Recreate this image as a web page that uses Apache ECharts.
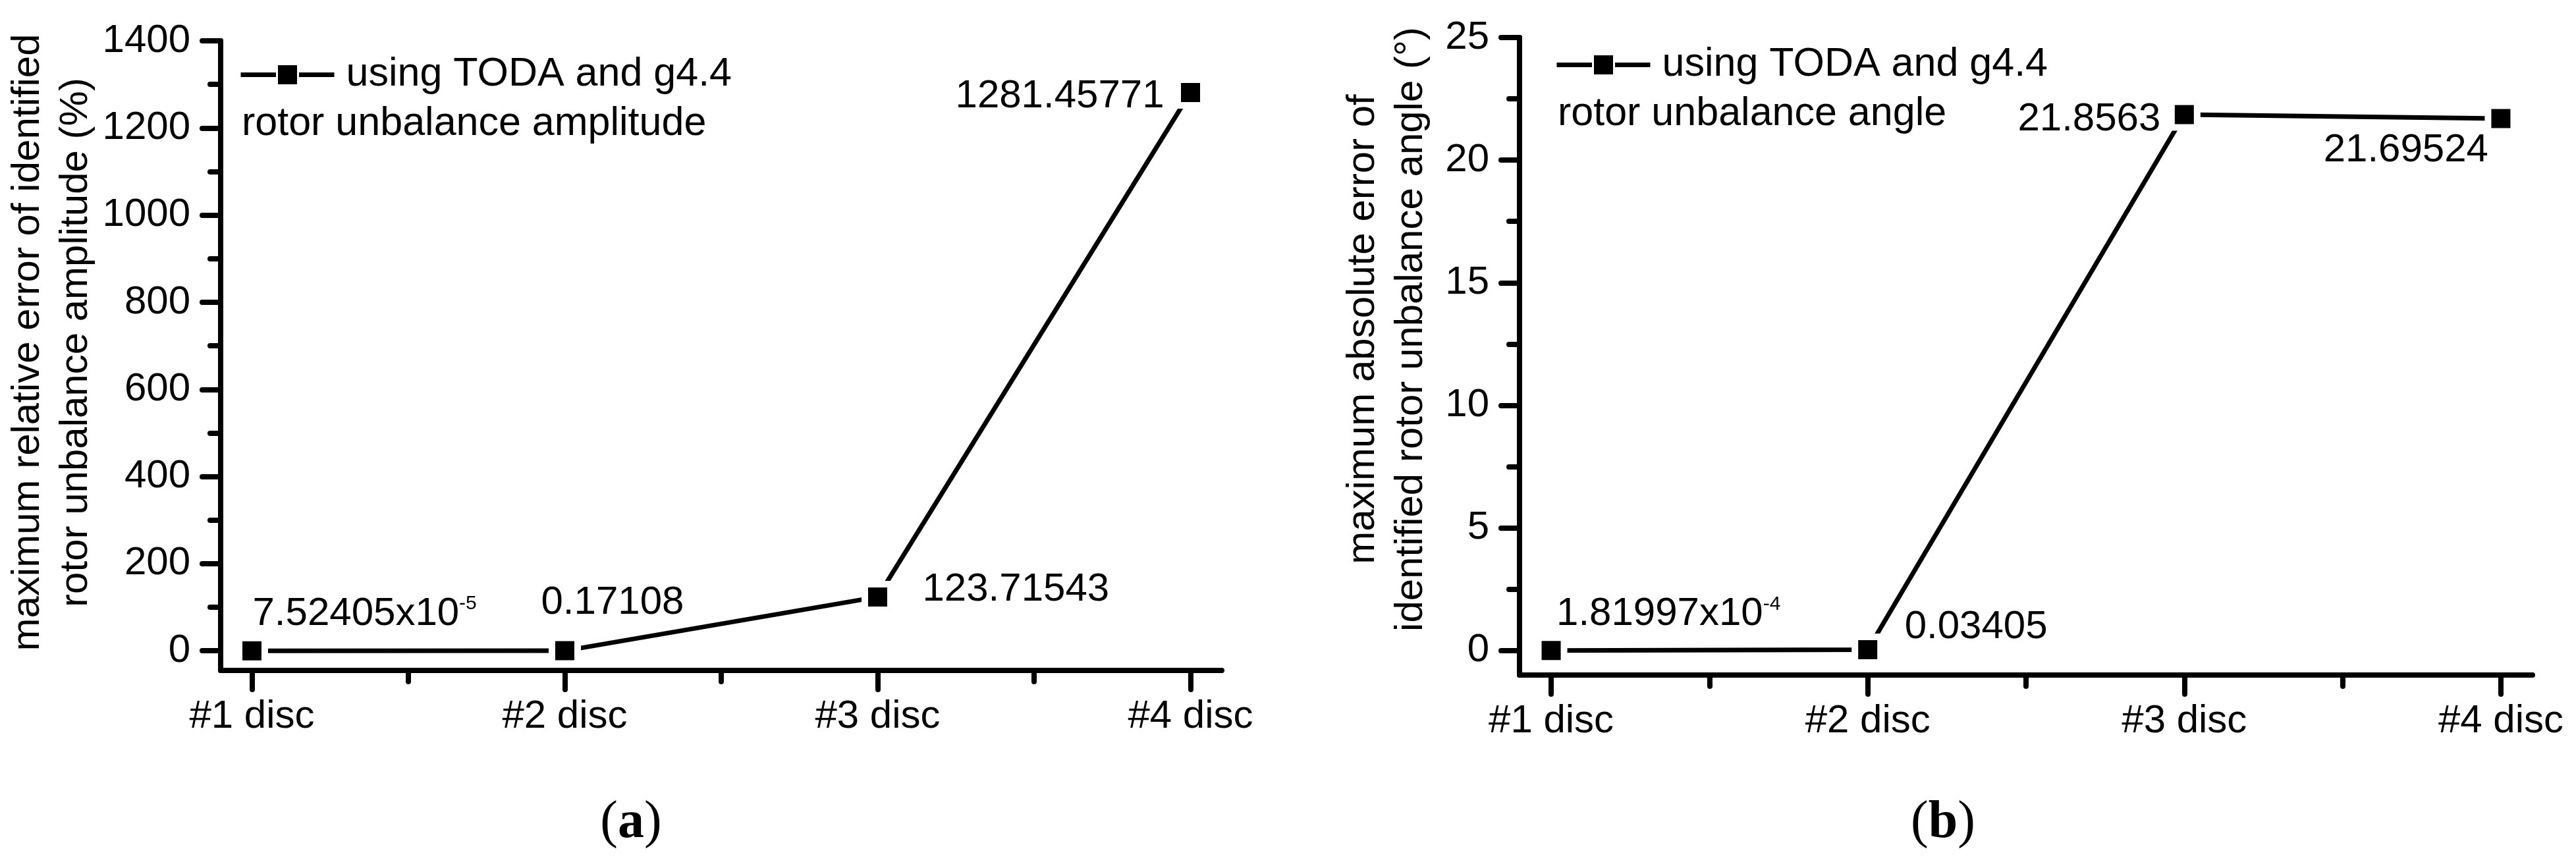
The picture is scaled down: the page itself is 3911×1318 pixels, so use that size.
<!DOCTYPE html>
<html><head><meta charset="utf-8">
<script src="https://cdn.jsdelivr.net/npm/echarts@6/dist/echarts.min.js"></script>
<style>html,body{margin:0;padding:0;background:#fff}#c{width:3911px;height:1318px}</style>
</head><body><div id="c"></div>
<script>
// ---------- data ----------
const categories = ['#1 disc', '#2 disc', '#3 disc', '#4 disc'];
const amplitudeError = [7.52405e-5, 0.17108, 123.71543, 1281.45771];
const angleError = [1.81997e-4, 0.03405, 21.8563, 21.69524];
const amplitudeTicks = [0, 200, 400, 600, 800, 1000, 1200, 1400];
const amplitudeMinorTicks = [100, 300, 500, 700, 900, 1100, 1300];
const angleTicks = [0, 5, 10, 15, 20, 25];
const angleMinorTicks = [2.5, 7.5, 12.5, 17.5, 22.5];
const legendName = 'using TODA and g4.4';
const legendLineA = 'rotor unbalance amplitude';
const legendLineB = 'rotor unbalance angle';
const yNameA = 'maximum relative error of identified\nrotor unbalance amplitude (%)';
const yNameB = 'maximum absolute error of\nidentified rotor unbalance angle (°)';

// ---------- styling / layout ----------
const FONT = "'Liberation Sans', Arial, Helvetica, sans-serif";
const SERIF = "'Liberation Serif', 'Times New Roman', serif";
const catPos = categories.map((c, i) => i + 1);
const minorCatPos = [1.5, 2.5, 3.5];
const labelPlaceA = [
  {align: 'left', offset: [1, -56]},
  {align: 'left', offset: [-36, -73]},
  {align: 'left', offset: [68, -11]},
  {align: 'right', offset: [-40, 6]}
];
const labelPlaceB = [
  {align: 'left', offset: [8, -55]},
  {align: 'left', offset: [56, -34]},
  {align: 'right', offset: [-36, 7]},
  {align: 'right', offset: [-19, 48]}
];

function fmt(v) {
  if (v < 0.001) {
    const e = Math.floor(Math.log10(v));
    const m = v / Math.pow(10, e);
    return m.toFixed(5) + 'x10{sup|' + e + '}';
  }
  return String(v);
}

const lineBlack = {color: '#000', width: 8, cap: 'round'};

function xAxes(grid) {
  return [
    {gridIndex: grid, type: 'value', min: 0.9, max: 4.1, position: 'bottom',
     axisLine: {show: true, onZero: false, lineStyle: {color: '#000', width: 8}},
     axisTick: {show: true, customValues: catPos, length: 29, lineStyle: lineBlack},
     axisLabel: {show: true, customValues: catPos, formatter: v => categories[Math.round(v) - 1],
                 fontSize: 60, color: '#000', fontFamily: FONT, margin: 40},
     splitLine: {show: false}},
    {gridIndex: grid, type: 'value', min: 0.9, max: 4.1, position: 'bottom',
     axisLine: {show: false, onZero: false},
     axisTick: {show: true, customValues: minorCatPos, length: 17, lineStyle: lineBlack},
     axisLabel: {show: false}, splitLine: {show: false}}
  ];
}
function yAxes(grid, min, max, ticks, minor, name, gap, shift) {
  return [
    {gridIndex: grid, type: 'value', min: min, max: max, position: 'left',
     axisLine: {show: true, onZero: false, lineStyle: {color: '#000', width: 8}},
     axisTick: {show: true, customValues: ticks, length: 28, lineStyle: lineBlack},
     axisLabel: {show: true, customValues: ticks, formatter: v => String(v),
                 fontSize: 60, color: '#000', fontFamily: FONT, margin: 46},
     splitLine: {show: false},
     name: name, nameLocation: 'middle', nameGap: gap,
     nameTextStyle: {fontSize: 60, lineHeight: 73, color: '#000', fontFamily: FONT, padding: [0, 0, 0, shift]}},
    {gridIndex: grid, type: 'value', min: min, max: max, position: 'left',
     axisLine: {show: false, onZero: false},
     axisTick: {show: true, customValues: minor, length: 16, lineStyle: lineBlack},
     axisLabel: {show: false}, splitLine: {show: false}}
  ];
}
function series(values, place, xi, yi) {
  return {
    type: 'line', name: legendName, xAxisIndex: xi, yAxisIndex: yi,
    data: values.map((v, i) => ({value: [catPos[i], v], label: place[i]})),
    symbol: 'rect', symbolSize: 39,
    lineStyle: {color: '#000', width: 7},
    itemStyle: {color: '#000', borderColor: '#fff', borderWidth: 10},
    label: {show: true, position: 'inside', verticalAlign: 'middle',
            formatter: p => fmt(p.value[1]),
            fontSize: 60, color: '#000', fontFamily: FONT, textBorderWidth: 0,
            rich: {sup: {fontSize: 30, verticalAlign: 'top', color: '#000', fontFamily: FONT}}},
    emphasis: {disabled: true},
    animation: false
  };
}
function legend(left, top) {
  return {left: left, top: top, padding: 0, itemWidth: 142, itemHeight: 40,
          data: [legendName], selectedMode: false,
          itemStyle: {color: '#000', borderColor: '#fff', borderWidth: 3},
          lineStyle: {color: '#000', width: 7},
          textStyle: {fontSize: 61, color: '#000', fontFamily: FONT, padding: [0, 0, 0, 13]}};
}

const chart = echarts.init(document.getElementById('c'), null, {renderer: 'canvas'});
chart.setOption({
  backgroundColor: '#fff',
  animation: false,
  grid: [
    {left: 335, top: 62, width: 1520, height: 956, outerBoundsMode: 'none'},
    {left: 2307, top: 57, width: 1538, height: 968, outerBoundsMode: 'none'}
  ],
  xAxis: [...xAxes(0), ...xAxes(1)],
  yAxis: [
    ...yAxes(0, -45, 1400, amplitudeTicks, amplitudeMinorTicks, yNameA, 166, 40),
    ...yAxes(1, -1, 25, angleTicks, angleMinorTicks, yNameB, 128, 82)
  ],
  legend: [legend(362, 83), legend(2360, 68)],
  series: [
    series(amplitudeError, labelPlaceA, 0, 0),
    series(angleError, labelPlaceB, 2, 2)
  ],
  graphic: [
    {type: 'text', left: 367, top: 189 - 31, style: {text: legendLineA, fontSize: 61, fontFamily: FONT, fill: '#000'}},
    {type: 'text', left: 2365, top: 174 - 31, style: {text: legendLineB, fontSize: 61, fontFamily: FONT, fill: '#000'}},
    {type: 'text', x: 958, y: 1250, style: {text: '({b|a})', fontSize: 80, fontFamily: SERIF, fill: '#000',
      align: 'center', verticalAlign: 'middle', rich: {b: {fontSize: 80, fontFamily: SERIF, fontWeight: 'bold', fill: '#000'}}}},
    {type: 'text', x: 2950, y: 1250, style: {text: '({b|b})', fontSize: 80, fontFamily: SERIF, fill: '#000',
      align: 'center', verticalAlign: 'middle', rich: {b: {fontSize: 80, fontFamily: SERIF, fontWeight: 'bold', fill: '#000'}}}}
  ]
});
</script>
</body></html>
